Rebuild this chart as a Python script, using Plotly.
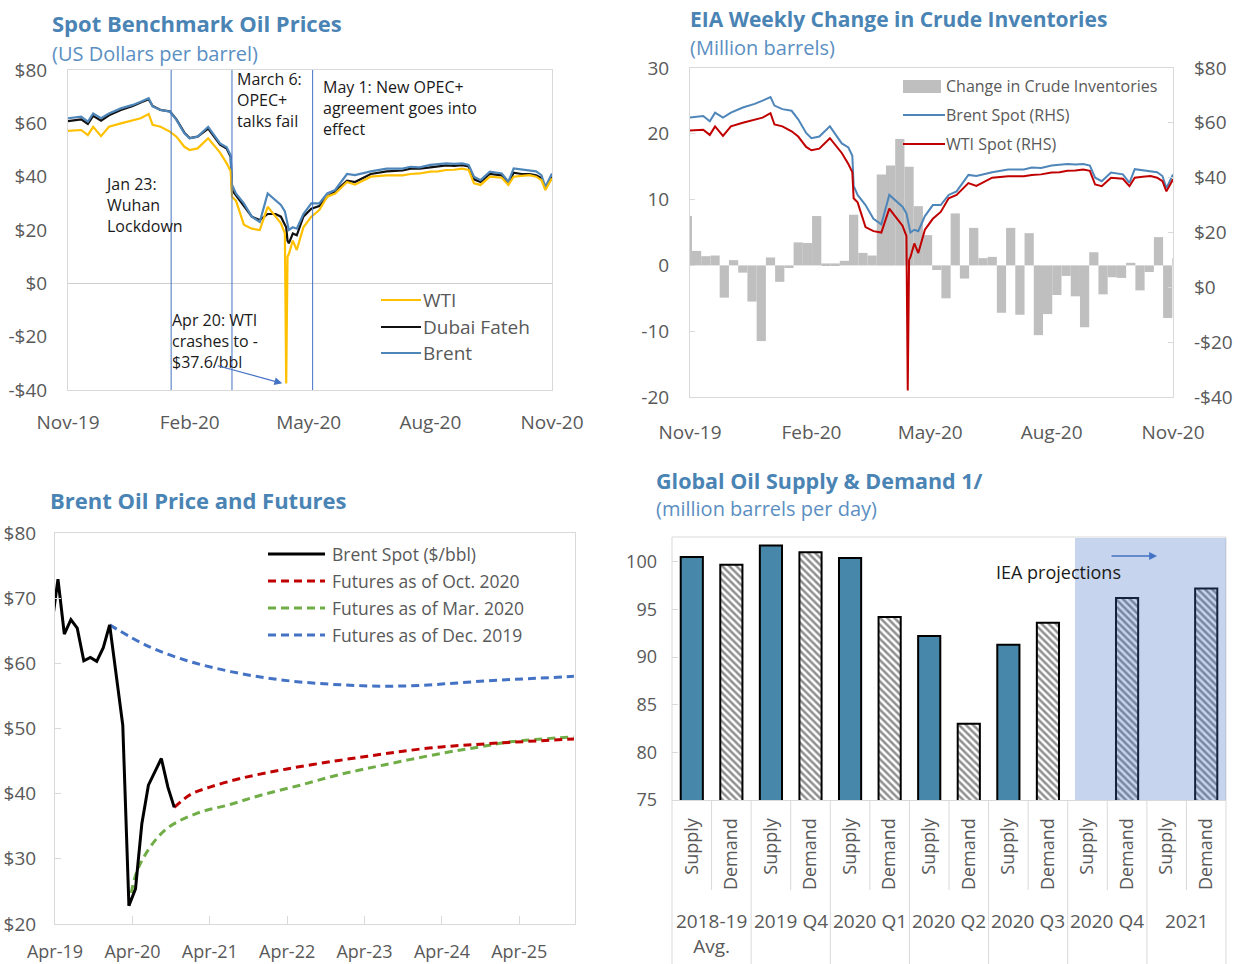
import plotly.graph_objects as go
import pandas as pd

W, H = 1247, 964
FONT = "Open Sans"
TICK = "#595959"
GRID = "#d9d9d9"
TITLE_C = "#4a84b4"
SUB_C = "#5b8fc2"


def X(p):
    return p / W


def Y(p):
    return 1 - p / H


# ---------------- Data: spot prices (top panels) ----------------
spot_dates = [
    "2019-11-01", "2019-11-11", "2019-11-16", "2019-11-20", "2019-11-26",
    "2019-12-02", "2019-12-11", "2019-12-20", "2019-12-26", "2020-01-01",
    "2020-01-04", "2020-01-10", "2020-01-17", "2020-01-22", "2020-01-28",
    "2020-02-01", "2020-02-07", "2020-02-15", "2020-02-24", "2020-02-29",
    "2020-03-03", "2020-03-04", "2020-03-07", "2020-03-13", "2020-03-19",
    "2020-03-25", "2020-03-31", "2020-04-06", "2020-04-10", "2020-04-13",
    "2020-04-14", "2020-04-15", "2020-04-16", "2020-04-19", "2020-04-22",
    "2020-04-27", "2020-05-03", "2020-05-09", "2020-05-15", "2020-05-21",
    "2020-05-30", "2020-06-05", "2020-06-17", "2020-06-29", "2020-07-05",
    "2020-07-11", "2020-07-17", "2020-07-24", "2020-08-01", "2020-08-07",
    "2020-08-13", "2020-08-19", "2020-08-25", "2020-08-30", "2020-09-03",
    "2020-09-08", "2020-09-15", "2020-09-24", "2020-09-29", "2020-10-03",
    "2020-10-09", "2020-10-15", "2020-10-20", "2020-10-24", "2020-10-27",
    "2020-11-01"]

brent = [61.9, 62.5, 60.6, 63.7, 61.9,
         63.7, 65.6, 66.9, 68.1, 69.4,
         66.3, 65.0, 64.4, 61.3, 56.3,
         54.4, 55.0, 58.7, 52.5, 51.0,
         48.0, 37.0, 33.7, 30.0, 25.0,
         23.0, 33.7, 31.0, 29.4, 27.0,
         25.0, 22.0, 20.0, 21.0, 20.5,
         26.0, 30.0, 30.0, 33.7, 35.0,
         41.0, 40.6, 42.0, 43.0, 43.1,
         43.0, 43.7, 43.5, 44.4, 44.6,
         45.0, 44.8, 45.0, 44.4, 40.0,
         38.7, 41.9, 41.2, 38.1, 43.1,
         42.8, 42.5, 42.0, 40.6, 36.2,
         41.2]

dubai = [60.8, 61.5, 59.8, 62.8, 61.0,
         63.0, 65.0, 66.5, 67.8, 69.0,
         66.5, 65.0, 64.5, 61.5, 56.5,
         54.5, 55.0, 58.0, 52.0, 50.5,
         47.5, 35.0, 33.0, 29.0, 25.0,
         23.7, 26.0, 26.0, 25.0, 22.0,
         21.0, 16.0, 15.0, 18.7, 18.0,
         25.0, 28.0, 29.0, 32.5, 34.4,
         38.5, 38.0, 41.0, 42.0, 42.2,
         42.3, 43.0, 43.0, 43.5, 43.8,
         44.2, 44.0, 44.3, 43.8, 39.0,
         38.0, 41.0, 40.5, 37.5, 41.5,
         41.0, 41.0, 40.5, 39.5, 35.5,
         40.0]

wti = [57.2, 57.5, 55.6, 58.7, 55.2,
       58.7, 60.0, 61.2, 61.9, 63.5,
       59.4, 58.7, 56.9, 55.0, 51.2,
       50.0, 50.6, 54.4, 49.0, 45.0,
       42.0, 32.5, 31.0, 22.0, 20.5,
       20.0, 28.7, 25.0, 22.5, 18.7,
       -37.6, 10.0, 11.0, 16.0, 12.5,
       21.0, 25.0, 27.5, 32.5, 33.7,
       38.0, 37.0, 40.0, 40.5, 40.6,
       40.5, 41.0, 41.2, 41.9, 42.0,
       42.5, 42.6, 43.0, 42.5, 37.5,
       36.9, 40.0, 39.6, 36.9, 40.0,
       40.3, 40.6, 40.0, 38.7, 35.0,
       39.4]

event_dates = ["2020-01-18", "2020-03-04", "2020-05-04"]

top_ticks = ["2019-11-01", "2020-02-01", "2020-05-01", "2020-08-01", "2020-11-01"]
top_ticktext = ["Nov-19", "Feb-20", "May-20", "Aug-20", "Nov-20"]

# ---------------- Data: EIA weekly inventory change ----------------
inv_week_end = pd.date_range("2019-11-01", periods=54, freq="7D")
inv_change = [7.5, 2.2, 1.4, 1.5, -4.9, 0.8, -1.1, -5.5, -11.5, 1.2,
              -2.5, -0.4, 3.5, 3.4, 7.5, 0.3, 0.3, 0.7, 7.7, 1.9,
              1.5, 13.8, 15.2, 19.2, 15.0, 9.0, 4.6, -0.7, -5.0, 7.9,
              -2.0, 5.7, 1.1, 1.3, -7.2, 5.7, -7.5, 4.9, -10.6, -7.4,
              -4.5, -1.6, -4.7, -9.4, 2.0, -4.4, -1.8, -1.9, 0.4, -3.8,
              -1.0, 4.3, -8.0, 1.1]
inv_ticks = [-20, -10, 0, 10, 20, 30]
inv_ticktext = ["-20", "-10", "0", "10", "20", "30"]

# ---------------- Data: Brent spot and futures ----------------
spot_m_dates = ["2019-03-15", "2019-04-15", "2019-05-15", "2019-06-15", "2019-07-15",
                "2019-08-15", "2019-09-15", "2019-10-15", "2019-11-15", "2019-12-15",
                "2020-02-15", "2020-03-15", "2020-04-15", "2020-05-15", "2020-06-15",
                "2020-07-15", "2020-08-15", "2020-09-15", "2020-10-15"]
spot_m = [65.4, 72.9, 64.5, 66.7, 65.4, 60.4, 60.9, 60.3, 62.4, 65.9,
          50.5, 22.8, 25.4, 35.4, 41.3, 43.3, 45.4, 41.0, 37.9]

fut_oct_dates = ["2020-10-15", "2021-01-01", "2021-04-01", "2021-09-01", "2022-04-01",
                 "2022-12-01", "2023-07-01", "2024-02-01", "2024-10-01", "2025-12-15"]
fut_oct = [37.9, 39.9, 41.0, 42.4, 43.8, 45.1, 46.1, 47.0, 47.6, 48.4]

fut_mar_dates = ["2020-03-15", "2020-05-01", "2020-09-01", "2021-02-01", "2021-07-01",
                 "2021-12-01", "2022-06-01", "2022-12-01", "2023-07-01", "2024-04-01",
                 "2024-10-01", "2025-03-01", "2025-12-15"]
fut_mar = [22.8, 28.8, 34.4, 37.0, 38.3, 39.8, 41.3, 42.9, 44.4, 46.2, 47.2, 48.0, 48.7]

fut_dec_dates = ["2019-12-15", "2020-06-15", "2020-12-15", "2021-06-15", "2021-12-15",
                 "2022-06-15", "2022-12-15", "2023-06-15", "2023-12-15", "2024-06-15",
                 "2024-12-15", "2025-06-15", "2025-12-15"]
fut_dec = [65.9, 62.6, 60.4, 58.9, 57.8, 57.1, 56.7, 56.5, 56.6, 57.0, 57.4, 57.7, 58.0]

bl_ticks = ["2019-04-01", "2020-04-01", "2021-04-01", "2022-04-01", "2023-04-01",
            "2024-04-01", "2025-04-01"]
bl_ticktext = ["Apr-19", "Apr-20", "Apr-21", "Apr-22", "Apr-23", "Apr-24", "Apr-25"]

# ---------------- Data: Global supply & demand ----------------
groups = ["2018-19 Avg.", "2019 Q4", "2020 Q1", "2020 Q2", "2020 Q3", "2020 Q4", "2021"]
group_labels = ["2018-19<br>Avg.", "2019 Q4", "2020 Q1", "2020 Q2", "2020 Q3", "2020 Q4", "2021"]
supply = [100.5, 101.7, 100.4, 92.2, 91.3, None, None]
demand = [99.7, 101.0, 94.2, 83.0, 93.6, 96.2, 97.2]

cats = []
for g in groups:
    cats += [g + "|Supply", g + "|Demand"]
cat_text = ["Supply", "Demand"] * len(groups)

# ---------------- Figure ----------------
fig = go.Figure()

# Panel 1: spot benchmark prices
fig.add_trace(go.Scatter(x=spot_dates, y=dubai, name="Dubai Fateh", mode="lines",
                         line=dict(color="#111111", width=2.2), xaxis="x", yaxis="y"))
fig.add_trace(go.Scatter(x=spot_dates, y=brent, name="Brent", mode="lines",
                         line=dict(color="#4f86b9", width=2.2), xaxis="x", yaxis="y"))
fig.add_trace(go.Scatter(x=spot_dates, y=wti, name="WTI", mode="lines",
                         line=dict(color="#ffc000", width=2.2), xaxis="x", yaxis="y"))

# Panel 2: EIA inventories + spot
fig.add_trace(go.Bar(x=inv_week_end, y=inv_change, name="Change in Crude Inventories",
                     marker=dict(color="#bfbfbf", line=dict(width=0)),
                     width=7 * 86400000, offset=-5.5 * 86400000,
                     xaxis="x2", yaxis="y3"))
fig.add_trace(go.Scatter(x=spot_dates, y=brent, name="Brent Spot (RHS)", mode="lines",
                         line=dict(color="#4f86b9", width=2), xaxis="x2", yaxis="y4"))
fig.add_trace(go.Scatter(x=spot_dates, y=wti, name="WTI Spot (RHS)", mode="lines",
                         line=dict(color="#c00000", width=2), xaxis="x2", yaxis="y4"))

# Panel 3: Brent and futures
fig.add_trace(go.Scatter(x=fut_dec_dates, y=fut_dec, name="Futures as of Dec. 2019", mode="lines",
                         line=dict(color="#4472c4", width=3, dash="8px,5px", shape="spline"),
                         xaxis="x3", yaxis="y5"))
fig.add_trace(go.Scatter(x=fut_mar_dates, y=fut_mar, name="Futures as of Mar. 2020", mode="lines",
                         line=dict(color="#70ad47", width=3, dash="8px,5px", shape="spline"),
                         xaxis="x3", yaxis="y5"))
fig.add_trace(go.Scatter(x=fut_oct_dates, y=fut_oct, name="Futures as of Oct. 2020", mode="lines",
                         line=dict(color="#c00000", width=3, dash="8px,5px", shape="spline"),
                         xaxis="x3", yaxis="y5"))
fig.add_trace(go.Scatter(x=spot_m_dates, y=spot_m, name="Brent Spot ($/bbl)", mode="lines",
                         line=dict(color="black", width=3), xaxis="x3", yaxis="y5"))

# Panel 4: supply & demand bars
fig.add_trace(go.Bar(x=[g + "|Supply" for g in groups], y=supply, name="Supply",
                     width=0.56,
                     marker=dict(color="#4787aa", line=dict(color="black", width=2)),
                     xaxis="x4", yaxis="y6"))
fig.add_trace(go.Bar(x=[g + "|Demand" for g in groups], y=demand, name="Demand",
                     width=0.56,
                     marker=dict(color="white", line=dict(color="black", width=2),
                                 pattern=dict(shape="\\", fgcolor="#222222", bgcolor="white",
                                              size=5, solidity=0.5)),
                     xaxis="x4", yaxis="y6"))

tick_font = dict(family=FONT, size=19, color=TICK)
frame = dict(showline=True, mirror=True, linecolor=GRID, linewidth=1, showgrid=False,
             zeroline=False, automargin=False)

dollar_vals = [-40, -20, 0, 20, 40, 60, 80]
dollar_text = ["-$40", "-$20", "$0", "$20", "$40", "$60", "$80"]

fig.update_layout(
    width=W, height=H, margin=dict(l=0, r=0, t=0, b=0, pad=0, autoexpand=False),
    paper_bgcolor="white", plot_bgcolor="white", showlegend=False,
    font=dict(family=FONT, color=TICK),
    barmode="overlay",
    # panel 1
    xaxis=dict(domain=[X(68), X(552)], anchor="y", type="date",
               range=["2019-11-01", "2020-11-01"], tickvals=top_ticks, ticktext=top_ticktext,
               ticks="", tickfont=tick_font, ticklabelstandoff=15, **frame),
    yaxis=dict(domain=[Y(390), Y(70)], anchor="x", range=[-40, 80],
               tickvals=dollar_vals, ticktext=dollar_text, ticks="",
               tickfont=tick_font, ticklabelstandoff=16, automargin=False,
               showline=True, mirror=True, linecolor=GRID, showgrid=False,
               zeroline=True, zerolinecolor="#cfcfcf", zerolinewidth=1),
    yaxis2=dict(overlaying="y", anchor="x", side="right", range=[-40, 80],
                tickvals=dollar_vals, ticktext=dollar_text, ticks="inside", ticklen=5,
                tickcolor=GRID, tickfont=tick_font, ticklabelstandoff=18, automargin=False,
                showgrid=False, zeroline=False, showline=False),
    # panel 2
    xaxis2=dict(domain=[X(690), X(1173)], anchor="y3", type="date",
                range=["2019-11-01", "2020-11-01"], tickvals=top_ticks, ticktext=top_ticktext,
                ticks="", tickfont=tick_font, ticklabelstandoff=18, **frame),
    yaxis3=dict(domain=[Y(397), Y(68)], anchor="x2", range=[-20, 30],
                tickvals=inv_ticks, ticktext=inv_ticktext,
                ticks="inside", ticklen=5, tickcolor=GRID, tickfont=tick_font,
                ticklabelstandoff=16, **frame),
    yaxis4=dict(overlaying="y3", anchor="x2", side="right", range=[-40, 80],
                tickvals=dollar_vals, ticktext=dollar_text, ticks="inside", ticklen=5,
                tickcolor=GRID, tickfont=tick_font, ticklabelstandoff=20, automargin=False,
                showgrid=False, zeroline=False, showline=False),
    # panel 3
    xaxis3=dict(domain=[X(55), X(575)], anchor="y5", type="date",
                range=["2019-04-01", "2025-12-20"], tickvals=bl_ticks, ticktext=bl_ticktext,
                ticks="inside", ticklen=8, tickcolor=GRID,
                tickfont=dict(family=FONT, size=18, color=TICK),
                ticklabelstandoff=11, **frame),
    yaxis5=dict(domain=[Y(924), Y(533)], anchor="x3", range=[20, 80], dtick=10,
                tickprefix="$", ticks="inside", ticklen=6, tickcolor=GRID,
                tickfont=tick_font, ticklabelstandoff=14, **frame),
    # panel 4
    xaxis4=dict(domain=[X(672), X(1226)], anchor="y6", type="category",
                categoryorder="array", categoryarray=cats, tickvals=cats, ticktext=cat_text,
                range=[-0.5, 13.5], tickangle=-90, ticks="",
                tickfont=dict(family=FONT, size=18, color=TICK),
                ticklabelstandoff=10, showline=True, linecolor=GRID, showgrid=False, zeroline=False,
                automargin=False),
    yaxis6=dict(domain=[Y(800), Y(537)], anchor="x4", range=[75, 102.6],
                tickvals=[75, 80, 85, 90, 95, 100], ticks="inside", ticklen=6, tickcolor=GRID,
                tickfont=dict(family=FONT, size=18, color=TICK), ticklabelstandoff=14,
                showline=False, showgrid=False, zeroline=False, automargin=False),
)

shapes = []
annos = []

# ---- titles ----
def title(text, x, y, size=21.5, bold=True, color=TITLE_C):
    annos.append(dict(text=("<b>%s</b>" % text) if bold else text, x=X(x), y=Y(y),
                      xref="paper", yref="paper", xanchor="left", yanchor="middle",
                      showarrow=False, font=dict(family=FONT, size=size, color=color)))

title("Spot Benchmark Oil Prices", 50, 23, size=22)
title("(US Dollars per barrel)", 50, 53, size=20, bold=False, color=SUB_C)
title("EIA Weekly Change in Crude Inventories", 688, 19, size=21)
title("(Million barrels)", 688, 47, size=20, bold=False, color=SUB_C)
title("Brent Oil Price and Futures", 48, 500, size=22)
title("Global Oil Supply &amp; Demand 1/", 654, 480, size=21.5)
title("(million barrels per day)", 654, 508, size=20, bold=False, color=SUB_C)

# ---- panel 1: event lines and notes ----
for d in event_dates:
    shapes.append(dict(type="line", xref="x", yref="y domain", x0=d, x1=d, y0=0, y1=1,
                       line=dict(color="#4472c4", width=1)))

def note(text, x, y):
    annos.append(dict(text=text, x=X(x), y=Y(y), xref="paper", yref="paper",
                      xanchor="left", yanchor="middle", align="left", showarrow=False,
                      font=dict(family=FONT, size=16, color="#1a1a1a")))

note("Jan 23:<br>Wuhan<br>Lockdown", 103, 205)
note("March 6:<br>OPEC+<br>talks fail", 235, 100)
note("May 1: New OPEC+<br>agreement goes into<br>effect", 321, 108)
note("Apr 20: WTI<br>crashes to -<br>$37.6/bbl", 170, 341)
annos.append(dict(x="2020-04-11", y=-37.5, xref="x", yref="y", ax=-66, ay=-18,
                  text="", showarrow=True, arrowhead=2, arrowsize=1.3, arrowwidth=1.2,
                  arrowcolor="#4472c4"))

# ---- legend helper ----
def leg_line(x0, x1, y, color, text, tx, size, width=2.2, dash=None):
    ln = dict(color=color, width=width)
    if dash:
        ln["dash"] = dash
    shapes.append(dict(type="line", xref="paper", yref="paper", x0=X(x0), x1=X(x1),
                       y0=Y(y), y1=Y(y), line=ln))
    annos.append(dict(text=text, x=X(tx), y=Y(y), xref="paper", yref="paper",
                      xanchor="left", yanchor="middle", showarrow=False,
                      font=dict(family=FONT, size=size, color=TICK)))

leg_line(381, 421, 300, "#ffc000", "WTI", 421, 19)
leg_line(381, 421, 327, "#111111", "Dubai Fateh", 421, 19)
leg_line(381, 421, 353, "#4f86b9", "Brent", 421, 19)

# panel 2 legend
shapes.append(dict(type="rect", xref="paper", yref="paper", x0=X(903), x1=X(941),
                   y0=Y(93), y1=Y(80), fillcolor="#bfbfbf", line=dict(width=0)))
annos.append(dict(text="Change in Crude Inventories", x=X(944), y=Y(86), xref="paper", yref="paper",
                  xanchor="left", yanchor="middle", showarrow=False,
                  font=dict(family=FONT, size=16, color=TICK)))
leg_line(903, 945, 115, "#4f86b9", "Brent Spot (RHS)", 944, 16, width=2)
leg_line(903, 945, 144, "#c00000", "WTI Spot (RHS)", 944, 16, width=2)

# panel 3 legend
leg_line(268, 325, 554, "black", "Brent Spot ($/bbl)", 330, 17.5, width=3)
leg_line(268, 325, 581, "#c00000", "Futures as of Oct. 2020", 330, 17.5, width=3, dash="8px,5px")
leg_line(268, 325, 608, "#70ad47", "Futures as of Mar. 2020", 330, 17.5, width=3, dash="8px,5px")
leg_line(268, 325, 635, "#4472c4", "Futures as of Dec. 2019", 330, 17.5, width=3, dash="8px,5px")

# ---- panel 4: frame, dividers, projection shading ----
for (x0, y0, x1, y1) in [(672, 537, 1226, 537), (672, 537, 672, 964), (1226, 537, 1226, 964)]:
    shapes.append(dict(type="line", xref="paper", yref="paper", x0=X(x0), x1=X(x1),
                       y0=Y(y0), y1=Y(y1), line=dict(color=GRID, width=1)))
for i in range(len(cats) - 1):
    long_div = (i % 2 == 1)
    shapes.append(dict(type="line", xref="x4", yref="paper", x0=i + 0.5, x1=i + 0.5,
                       y0=Y(800), y1=Y(964 if long_div else 890),
                       line=dict(color=GRID, width=1)))
for i, gl in enumerate(group_labels):
    annos.append(dict(text=gl, x=2 * i + 0.5, y=Y(906), xref="x4", yref="paper",
                      xanchor="center", yanchor="top", showarrow=False,
                      font=dict(family=FONT, size=19, color=TICK)))

shapes.append(dict(type="rect", xref="paper", yref="paper", x0=X(1075), x1=X(1226),
                   y0=Y(800), y1=Y(538), fillcolor="rgba(68,114,196,0.30)",
                   line=dict(width=0), layer="above"))
annos.append(dict(text="IEA projections", x=X(994), y=Y(572), xref="paper", yref="paper",
                  xanchor="left", yanchor="middle", showarrow=False,
                  font=dict(family=FONT, size=18, color="#1a1a1a")))
annos.append(dict(x=X(1157), y=Y(556), ax=-47, ay=0, xref="paper", yref="paper",
                  text="", showarrow=True, arrowhead=2,
                  arrowsize=1.2, arrowwidth=1.3, arrowcolor="#4472c4"))

fig.update_layout(shapes=shapes, annotations=annos)

fig.write_html("out.html", include_plotlyjs=True, config={"displayModeBar": False},
               post_script="document.body.style.margin='0px';")
